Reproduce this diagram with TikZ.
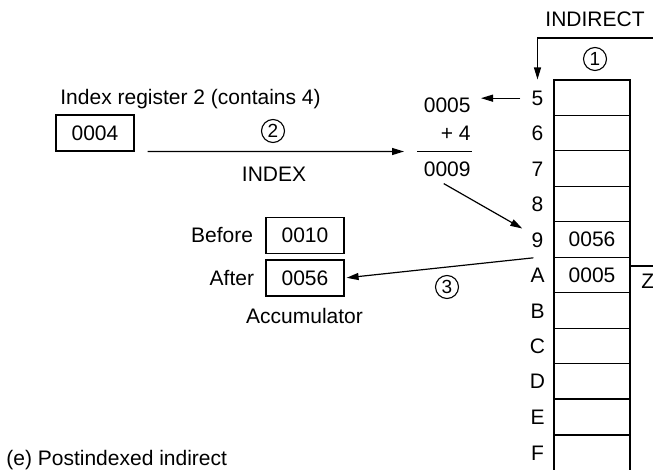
\documentclass[tikz,border=0pt]{standalone}
\usepackage{fontspec}
\setmainfont{Liberation Sans}
\usetikzlibrary{arrows.meta}
\begin{document}
\begin{tikzpicture}[x=0.5pt,y=-0.5pt,
  every node/.style={font=\fontsize{10.5}{12.6}\selectfont, inner sep=0pt},
  txt/.style={anchor=base},
  cell/.style={draw, line width=0.6pt, minimum width=38pt, minimum height=17.725pt},
  regbox/.style={draw, line width=0.6pt, minimum width=39pt, minimum height=18pt},
  num/.style={draw, circle, line width=0.55pt, minimum size=11.5pt, font=\fontsize{9.5}{11}\selectfont},
  conn/.style={line width=0.6pt},
  arr/.style={conn, -{Triangle[length=6pt,width=3.5pt]}}
]
\useasboundingbox (0,0) rectangle (653,470);

% memory column
\foreach \l [count=\i from 0] in {5,6,7,8,9,A,B,C,D,E} {
  \node[cell] (m\l) at (592, 97.7+35.45*\i) {};
  \node[txt] (l\l) at (537.5, 105.3+35.45*\i) {\l};
}
\node[cell, minimum height=30pt] (mF) at (592, 465) {};
\node[txt] (lF) at (537.5, 460.3) {F};
\node (c9) at (m9) {0056};
\node (cA) at (mA) {0005};

% indirect
\node[txt] (indirect) at (595,27) {INDIRECT};
\node[num] (n1) at (595,59) {1};
\coordinate (indR) at (660,38);
\draw[arr] (indR) -| ([yshift=5.5pt]l5.north);

% Z
\draw[conn] ([yshift=4.5pt]mA.east) -- ++(30,0);
\node[txt, anchor=base west] (z) at (641,289) {Z};

% index register
\node[txt, anchor=base west] (ireg) at (60,105) {Index register 2 (contains 4)};
\node[regbox] (reg) at (95,133) {0004};

% sum
\node[txt, anchor=base east] (v5) at (471,113) {0005};
\node[txt, anchor=base east] (p4) at (471,141) {+ 4};
\coordinate (sumL) at (417,151.5);
\coordinate (sumR) at (472,151.5);
\draw[conn] (sumL) -- (sumR);
\node[txt, anchor=base east] (v9) at (471,177) {0009};

\draw[arr, shorten <=5.5pt, shorten >=5pt] (l5.west) -- (l5.west -| v5.east);

\draw[arr] ([xshift=6.5pt]reg.south east) -- ([xshift=-6.5pt]sumL);
\node[num] (n2) at (273,131) {2};
\node[txt] (index) at (274,181.5) {INDEX};

\draw[arr] ([xshift=-1.75pt,yshift=-3pt]v9.south) -- ([xshift=-4.5pt,yshift=1.75pt]l9.north west);

% accumulator
\node[regbox] (before) at (305,235.5) {0010\hspace{5pt}};
\node[regbox] (after) at (305,278) {0056\hspace{3pt}};
\node[anchor=east] (lbefore) at ([xshift=-6pt]before.west) {Before};
\node[anchor=east] (lafter) at ([xshift=-5.5pt]after.west) {After};
\node[txt] (acc) at (304.5,323.5) {Accumulator};

\draw[arr, shorten >=1pt] ([xshift=-10pt]m9.south west) -- (after.east);
\node[num] (n3) at (447,287) {3};

\node[txt, anchor=base west] (cap) at (6,465) {(e) Postindexed indirect};
\end{tikzpicture}
\end{document}
